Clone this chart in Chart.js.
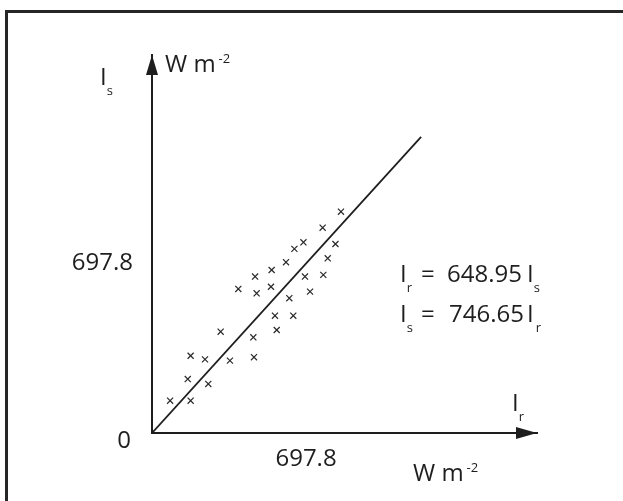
<!DOCTYPE html>
<html>
<head>
<meta charset="utf-8">
<script src="https://cdn.jsdelivr.net/npm/chart.js@4.4.1/dist/chart.umd.min.js"></script>
<style>
  html, body { margin: 0; padding: 0; background: #fff; }
  #wrap { position: relative; width: 623px; height: 501px; overflow: hidden; }
  #frame { position: absolute; left: 5px; top: 10px; width: 700px; height: 600px;
           border-top: 3px solid #262626; border-left: 3px solid #262626; }
  canvas { position: absolute; left: 0; top: 0; }
</style>
</head>
<body>
<div id="wrap">
  <div id="frame"></div>
  <canvas id="scatter" width="623" height="501"></canvas>
</div>
<script>
// measured pairs, I_r on the x axis, I_s on the y axis (W m-2)
const irValues = [856, 773, 686, 645, 831, 796, 607, 542, 467, 693, 776, 391, 474, 539, 716,
                  622, 557, 640, 565, 311, 459, 175, 240, 353, 462, 162, 255, 82, 175];
const isValues = [911, 845, 785, 758, 778, 719, 703, 671, 644, 644, 651, 593, 575, 602, 582,
                  555, 483, 483, 424, 417, 394, 318, 303, 298, 312, 222, 202, 133, 133];
// fitted line I_s = I_r
const fitIr = [0, 1219];
const fitIs = [0, 1219];
const tickValues = [697.8];
const axisMax = { x: 1744, y: 1556 };

const ink = '#1e1e1e';
const font = '"Open Sans", "DejaVu Sans", sans-serif';

const points = irValues.map((v, i) => ({ x: v, y: isValues[i] }));
const fit = fitIr.map((v, i) => ({ x: v, y: fitIs[i] }));

function withSub(ctx, x, y, main, sub, up, gap = 0) {
    ctx.font = `24px ${font}`;
    ctx.fillText(main, x, y);
    const w = ctx.measureText(main).width;
    ctx.font = `13px ${font}`;
    ctx.fillText(sub, x + w + gap, up ? y - 9 : y + 10);
}

const annotate = {
    id: 'annotate',
    afterDraw(chart) {
        const { ctx, chartArea: a, scales: { x, y } } = chart;
        const ox = x.getPixelForValue(0);
        const oy = y.getPixelForValue(0);
        ctx.save();
        ctx.fillStyle = ink;

        // arrow heads
        ctx.beginPath();
        ctx.moveTo(ox, a.top);
        ctx.lineTo(ox - 6, a.top + 20);
        ctx.lineTo(ox + 6, a.top + 20);
        ctx.closePath();
        ctx.fill();
        ctx.beginPath();
        ctx.moveTo(a.right, oy);
        ctx.lineTo(a.right - 21, oy - 6);
        ctx.lineTo(a.right - 21, oy + 6);
        ctx.closePath();
        ctx.fill();

        // origin
        ctx.font = `24px ${font}`;
        ctx.textAlign = 'center';
        ctx.textBaseline = 'middle';
        ctx.fillText('0', ox - 28, oy + 8);
        ctx.textAlign = 'left';
        ctx.textBaseline = 'alphabetic';

        // axis names and units
        withSub(ctx, 100, 85, 'I', 's');
        withSub(ctx, 165, 72, 'W m', '-2', true, 3);
        withSub(ctx, 512, 411, 'I', 'r');
        withSub(ctx, 413, 481, 'W m', '-2', true, 3);

        // equations
        withSub(ctx, 400, 282, 'I', 'r');
        ctx.font = `24px ${font}`;
        ctx.fillText('=', 421, 282);
        ctx.fillText('648.95', 447, 282);
        withSub(ctx, 527, 282, 'I', 's');

        withSub(ctx, 400, 322, 'I', 's');
        ctx.font = `24px ${font}`;
        ctx.fillText('=', 421, 322);
        ctx.fillText('746.65', 449, 322);
        withSub(ctx, 527, 322, 'I', 'r', false, 2);

        ctx.restore();
    }
};

new Chart(document.getElementById('scatter'), {
    type: 'scatter',
    data: {
        datasets: [
            {
                label: 'fit',
                type: 'line',
                data: fit,
                borderColor: ink,
                borderWidth: 1.8,
                pointRadius: 0,
                fill: false
            },
            {
                label: 'obs',
                data: points,
                pointStyle: 'crossRot',
                pointRadius: 4.3,
                pointBorderWidth: 1.2,
                borderColor: '#2a2a2a',
                backgroundColor: '#2a2a2a'
            }
        ]
    },
    options: {
        responsive: false,
        animation: false,
        layout: { padding: { left: 52, right: 86, top: 55, bottom: 18 } },
        plugins: { legend: { display: false }, tooltip: { enabled: false } },
        scales: {
            x: {
                type: 'linear',
                min: 0,
                max: axisMax.x,
                afterFit(scale) { scale.height = 50; },
                afterBuildTicks(scale) { scale.ticks = tickValues.map(v => ({ value: v })); },
                grid: { display: false, drawTicks: false, tickLength: 0 },
                border: { display: true, color: ink, width: 2 },
                ticks: {
                    padding: 12,
                    color: ink,
                    font: { family: font, size: 24 },
                    callback: v => v.toFixed(1)
                }
            },
            y: {
                type: 'linear',
                min: 0,
                max: axisMax.y,
                afterFit(scale) { scale.width = 100; },
                afterBuildTicks(scale) { scale.ticks = tickValues.map(v => ({ value: v })); },
                grid: { display: false, drawTicks: false, tickLength: 0 },
                border: { display: true, color: ink, width: 2 },
                ticks: {
                    padding: 19,
                    color: ink,
                    font: { family: font, size: 24 },
                    callback: v => v.toFixed(1)
                }
            }
        }
    },
    plugins: [annotate]
});
</script>
</body>
</html>
